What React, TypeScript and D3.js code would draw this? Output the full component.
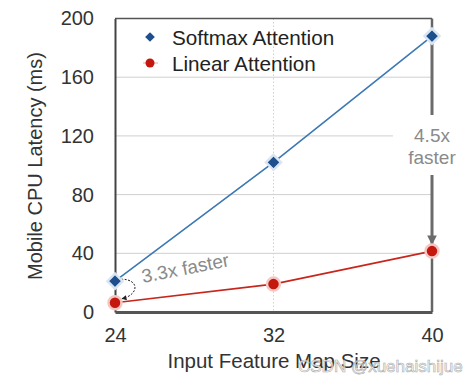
import React, { useEffect, useRef } from 'react';
import * as d3 from 'd3';

// values
const featureSizes = [24, 32, 40];
const softmaxLatency = [21, 102, 188];
const linearLatency = [6.3, 19, 41.5];
const yTicks = [0, 40, 80, 120, 160, 200];
const gridTicks = [40, 80, 120, 160];

const W = 476;
const H = 386;
const left = 115;
const right = 432;
const top = 18.5;
const bottom = 312;

const FONT = '"Liberation Sans", Arial, Helvetica, sans-serif';

export default function App() {
  const ref = useRef<SVGSVGElement>(null);

  useEffect(() => {
    const svg = d3.select(ref.current);
    svg.selectAll('*').remove();

    const x = d3.scaleLinear().domain([24, 40]).range([left, right]);
    const y = d3.scaleLinear().domain([0, 200]).range([bottom, top]);

    const defs = svg.append('defs');
    defs.append('marker')
      .attr('id', 'headBlack')
      .attr('viewBox', '0 0 10 10')
      .attr('refX', 9).attr('refY', 5)
      .attr('markerWidth', 5).attr('markerHeight', 5)
      .attr('orient', 'auto')
      .append('path').attr('d', 'M0,0 L10,5 L0,10 z').attr('fill', '#222');
    defs.append('marker')
      .attr('id', 'headGray')
      .attr('viewBox', '0 0 10 10')
      .attr('refX', 9).attr('refY', 5)
      .attr('markerWidth', 3.2).attr('markerHeight', 3.2)
      .attr('orient', 'auto')
      .append('path').attr('d', 'M0,0 L10,5 L0,10 z').attr('fill', '#6b6b6b');

    // gridlines
    svg.append('g')
      .selectAll('line')
      .data(gridTicks)
      .enter()
      .append('line')
      .attr('x1', left)
      .attr('x2', d => (d === 120 ? 393 : right))
      .attr('y1', d => y(d))
      .attr('y2', d => y(d))
      .attr('stroke', '#cfcfcf')
      .attr('stroke-width', 1);

    svg.append('line')
      .attr('x1', x(32)).attr('x2', x(32))
      .attr('y1', y(200)).attr('y2', y(0))
      .attr('stroke', '#d0d0d0')
      .attr('stroke-width', 1)
      .attr('stroke-dasharray', '1.5,2');

    // frame
    svg.append('line').attr('x1', left).attr('x2', right).attr('y1', y(200)).attr('y2', y(200))
      .attr('stroke', '#555').attr('stroke-width', 1.5);
    svg.append('line').attr('x1', right).attr('x2', right).attr('y1', y(200)).attr('y2', y(softmaxLatency[2]))
      .attr('stroke', '#666').attr('stroke-width', 2.5);
    svg.append('line').attr('x1', right).attr('x2', right).attr('y1', y(linearLatency[2])).attr('y2', y(0))
      .attr('stroke', '#666').attr('stroke-width', 2.5);

    // 4.5x arrow on right edge
    svg.append('line').attr('x1', right).attr('x2', right).attr('y1', y(softmaxLatency[2])).attr('y2', 115)
      .attr('stroke', '#6b6b6b').attr('stroke-width', 3);
    svg.append('line').attr('x1', right).attr('x2', right).attr('y1', 175).attr('y2', y(linearLatency[2]) - 7)
      .attr('stroke', '#6b6b6b').attr('stroke-width', 3)
      .attr('marker-end', 'url(#headGray)');
    const t45 = svg.append('text')
      .attr('x', right).attr('font-family', FONT).attr('font-size', 19)
      .attr('fill', '#8a8a8a').attr('text-anchor', 'middle');
    t45.append('tspan').attr('x', right).attr('y', 142).text('4.5x');
    t45.append('tspan').attr('x', right).attr('y', 164).text('faster');

    // axes
    const yAxis = d3.axisLeft(y).tickValues(yTicks).tickSize(0).tickPadding(21).tickFormat(d3.format('d'));
    const yg = svg.append('g').attr('transform', `translate(${left},0)`).call(yAxis);
    yg.select('.domain').attr('stroke', '#444').attr('stroke-width', 2);
    yg.selectAll('text').attr('font-family', FONT).attr('font-size', 20).attr('fill', '#333');

    const xAxis = d3.axisBottom(x).tickValues(featureSizes).tickSize(0).tickPadding(16).tickFormat(d3.format('d'));
    const xg = svg.append('g').attr('transform', `translate(0,${bottom})`).call(xAxis);
    xg.select('.domain').attr('stroke', '#555').attr('stroke-width', 3);
    xg.selectAll('text').attr('font-family', FONT).attr('font-size', 20).attr('fill', '#333');

    // axis titles
    svg.append('text')
      .attr('x', 274).attr('y', 368)
      .attr('text-anchor', 'middle')
      .attr('font-family', FONT).attr('font-size', 20.5).attr('fill', '#333')
      .text('Input Feature Map Size');
    svg.append('text')
      .attr('transform', `translate(42,166) rotate(-90)`)
      .attr('text-anchor', 'middle')
      .attr('font-family', FONT).attr('font-size', 20).attr('fill', '#333')
      .text('Mobile CPU Latency (ms)');

    // lines
    const lineGen = d3.line<number>().x((d, i) => x(featureSizes[i])).y(d => y(d));
    svg.append('path').datum(softmaxLatency)
      .attr('fill', 'none').attr('stroke', '#3b78b4').attr('stroke-width', 1.6)
      .attr('d', lineGen);
    svg.append('path').datum(linearLatency)
      .attr('fill', 'none').attr('stroke', '#c8261c').attr('stroke-width', 1.6)
      .attr('d', lineGen);

    // 3.3x annotation
    const x0 = x(24);
    const ya = y(softmaxLatency[0]);
    const yb = y(linearLatency[0]);
    svg.append('path')
      .attr('d', `M${x0 + 6},${ya - 2} C${x0 + 25},${ya - 2} ${x0 + 24},${yb - 8} ${x0 + 7},${yb - 4}`)
      .attr('fill', 'none').attr('stroke', '#222').attr('stroke-width', 1)
      .attr('stroke-dasharray', '2,1.5')
      .attr('marker-end', 'url(#headBlack)');
    svg.append('text')
      .attr('transform', `translate(143,283) rotate(-11)`)
      .attr('font-family', FONT).attr('font-size', 19).attr('fill', '#8a8a8a')
      .text('3.3x faster');

    // markers
    const diamond = d3.symbol().type(d3.symbolDiamond2).size(145);
    svg.append('g').selectAll('path')
      .data(softmaxLatency).enter().append('path')
      .attr('d', diamond)
      .attr('transform', (d, i) => `translate(${x(featureSizes[i])},${y(d)})`)
      .attr('fill', '#1d4f8d').attr('stroke', '#dbe5f1').attr('stroke-width', 2.5);
    svg.append('g').selectAll('circle')
      .data(linearLatency).enter().append('circle')
      .attr('cx', (d, i) => x(featureSizes[i]))
      .attr('cy', d => y(d))
      .attr('r', 6.5)
      .attr('fill', '#c4170e').attr('stroke', '#f3c8c4').attr('stroke-width', 2.5);

    // legend
    const lg = svg.append('g');
    lg.append('path').attr('d', d3.symbol().type(d3.symbolDiamond2).size(60))
      .attr('transform', 'translate(150,37)').attr('fill', '#1d4f8d');
    lg.append('line').attr('x1', 143).attr('x2', 158).attr('y1', 63).attr('y2', 63)
      .attr('stroke', '#eaa9a4').attr('stroke-width', 1);
    lg.append('circle').attr('cx', 150).attr('cy', 63).attr('r', 4.5).attr('fill', '#c4170e');
    lg.append('text').attr('x', 172).attr('y', 45)
      .attr('font-family', FONT).attr('font-size', 20.7).attr('fill', '#222').text('Softmax Attention');
    lg.append('text').attr('x', 172).attr('y', 71)
      .attr('font-family', FONT).attr('font-size', 20.7).attr('fill', '#222').text('Linear Attention');

    // watermark
    svg.append('text').attr('x', 298).attr('y', 372)
      .attr('font-family', FONT).attr('font-size', 17)
      .attr('fill', '#ffffff').attr('stroke', '#9a9a9a').attr('stroke-width', 0.6)
      .attr('opacity', 0.85)
      .text('CSDN @xuehaishijue');
  }, []);

  return (
    <svg
      ref={ref}
      width={W}
      height={H}
      style={{ position: 'absolute', left: 0, top: 0, background: '#fff' }}
    />
  );
}
